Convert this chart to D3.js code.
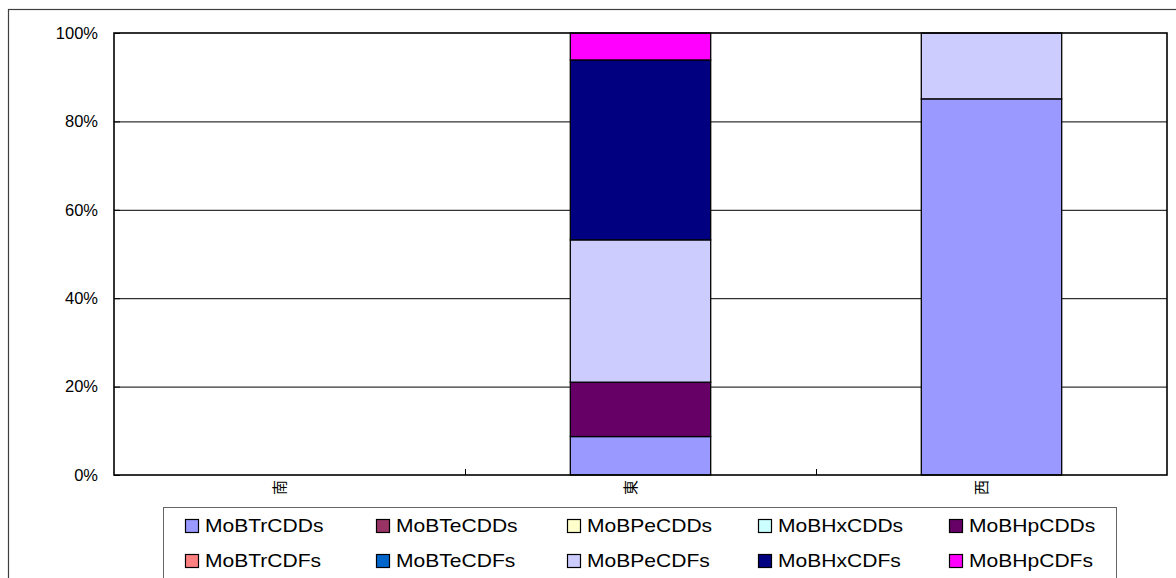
<!DOCTYPE html>
<html>
<head>
<meta charset="utf-8">
<script src="https://cdn.jsdelivr.net/npm/d3@7"></script>
<style>
  body { margin: 0; background: #fff; }
  svg { display: block; font-family: "Liberation Sans", Arial, "Noto Sans CJK JP", sans-serif; }
</style>
</head>
<body>
<div id="chart"></div>
<script>
// categories (x axis) and series (percent of total)
const categories = ['南', '東', '西'];
const seriesNames = ['MoBTrCDDs', 'MoBTeCDDs', 'MoBPeCDDs', 'MoBHxCDDs', 'MoBHpCDDs',
                     'MoBTrCDFs', 'MoBTeCDFs', 'MoBPeCDFs', 'MoBHxCDFs', 'MoBHpCDFs'];
const seriesColors = ['#9999FF', '#993366', '#FFFFCC', '#CCFFFF', '#660066',
                      '#FF8080', '#0066CC', '#CCCCFF', '#000080', '#FF00FF'];
// one array per series, values for 南, 東, 西
const MoBTrCDDs = [0, 8.7, 85.1];
const MoBTeCDDs = [0, 0, 0];
const MoBPeCDDs = [0, 0, 0];
const MoBHxCDDs = [0, 0, 0];
const MoBHpCDDs = [0, 12.3, 0];
const MoBTrCDFs = [0, 0, 0];
const MoBTeCDFs = [0, 0, 0];
const MoBPeCDFs = [0, 32.2, 14.9];
const MoBHxCDFs = [0, 40.7, 0];
const MoBHpCDFs = [0, 6.1, 0];
const yTicks = [0, 20, 40, 60, 80, 100];

const seriesValues = [MoBTrCDDs, MoBTeCDDs, MoBPeCDDs, MoBHxCDDs, MoBHpCDDs,
                      MoBTrCDFs, MoBTeCDFs, MoBPeCDFs, MoBHxCDFs, MoBHpCDFs];

const svgWidth = 1176, svgHeight = 578;
const margin = { top: 33, right: 9, bottom: 103, left: 114 };
const width = svgWidth - margin.left - margin.right;
const height = svgHeight - margin.top - margin.bottom;

// table for d3.stack
const table = categories.map((c, i) => {
  const row = { cat: c };
  seriesNames.forEach((s, j) => row[s] = seriesValues[j][i]);
  return row;
});
const stacked = d3.stack().keys(seriesNames)(table);

const x = d3.scaleBand().domain(categories).range([0, width]).paddingInner(0.6).paddingOuter(0.3);
const xOuter = d3.scaleBand().domain(categories).range([0, width]);
const y = d3.scaleLinear().domain([0, 100]).range([height, 0]);

const svg = d3.select('#chart').append('svg')
  .attr('width', svgWidth)
  .attr('height', svgHeight);

// outer chart border (runs off the window right and bottom)
svg.append('rect')
  .attr('x', 8.5).attr('y', 9.5)
  .attr('width', svgWidth + 20).attr('height', svgHeight + 20)
  .attr('fill', 'none').attr('stroke', '#404040').attr('stroke-width', 1.2);

const g = svg.append('g')
  .attr('transform', 'translate(' + margin.left + ',' + margin.top + ')');

// gridlines
g.append('g')
  .selectAll('line')
  .data(yTicks.filter(d => d > 0 && d < 100))
  .enter().append('line')
  .attr('x1', 0).attr('x2', width)
  .attr('y1', d => y(d) + 0.5).attr('y2', d => y(d) + 0.5)
  .attr('stroke', '#000').attr('stroke-width', 1);

// bars
g.selectAll('.series')
  .data(stacked)
  .enter().append('g')
  .attr('class', 'series')
  .attr('fill', (d, i) => seriesColors[i])
  .selectAll('rect')
  .data(d => d.filter(p => p[1] - p[0] > 0))
  .enter().append('rect')
  .attr('x', d => x(d.data.cat))
  .attr('width', x.bandwidth())
  .attr('y', d => y(d[1]))
  .attr('height', d => y(d[0]) - y(d[1]))
  .attr('stroke', '#000')
  .attr('stroke-width', 1.3);

// plot area frame
g.append('rect')
  .attr('x', 0).attr('y', 0)
  .attr('width', width).attr('height', height)
  .attr('fill', 'none').attr('stroke', '#000').attr('stroke-width', 1.6);

// y axis
const yAxis = d3.axisLeft(y).tickValues(yTicks).tickFormat(d => d + '%').tickSize(-6).tickPadding(16);
const yg = g.append('g').call(yAxis);
yg.select('.domain').remove();
yg.selectAll('line').attr('stroke', '#000');
yg.selectAll('text')
  .attr('font-size', 16.5)
  .attr('fill', '#000');

// x tick marks between categories (pointing inward)
g.append('g')
  .selectAll('line')
  .data(categories.slice(1))
  .enter().append('line')
  .attr('x1', d => xOuter(d) + 0.5).attr('x2', d => xOuter(d) + 0.5)
  .attr('y1', height).attr('y2', height - 6)
  .attr('stroke', '#000');

// x labels, rotated
g.append('g')
  .selectAll('text')
  .data(categories)
  .enter().append('text')
  .attr('transform', d => 'translate(' + (xOuter(d) + xOuter.bandwidth() / 2 - 10) + ',' + (height + 5) + ') rotate(-90)')
  .attr('text-anchor', 'end')
  .attr('dy', '0.35em')
  .attr('font-size', 15)
  .attr('fill', '#000')
  .text(d => d);

// legend
const legendX = 163, legendY = 507;
const legend = svg.append('g').attr('transform', 'translate(' + legendX + ',' + legendY + ')');
legend.append('rect')
  .attr('x', 0.5).attr('y', 0.5)
  .attr('width', 953).attr('height', 100)
  .attr('fill', '#fff').attr('stroke', '#666').attr('stroke-width', 1);

const colW = 191, rowH = 35;
const items = legend.selectAll('.item')
  .data(seriesNames)
  .enter().append('g')
  .attr('class', 'item')
  .attr('transform', (d, i) => 'translate(' + (22 + (i % 5) * colW) + ',' + (12 + Math.floor(i / 5) * rowH) + ')');
items.append('rect')
  .attr('x', 0.5).attr('y', 0.5)
  .attr('width', 13).attr('height', 13)
  .attr('fill', (d, i) => seriesColors[i])
  .attr('stroke', '#000').attr('stroke-width', 1.2);
// legend glyphs in the reference are wide; stretch horizontally
items.append('text')
  .attr('transform', 'translate(20,7) scale(1.17,1)')
  .attr('dy', '0.36em')
  .attr('font-size', 18)
  .attr('fill', '#000')
  .text(d => d);
</script>
</body>
</html>
